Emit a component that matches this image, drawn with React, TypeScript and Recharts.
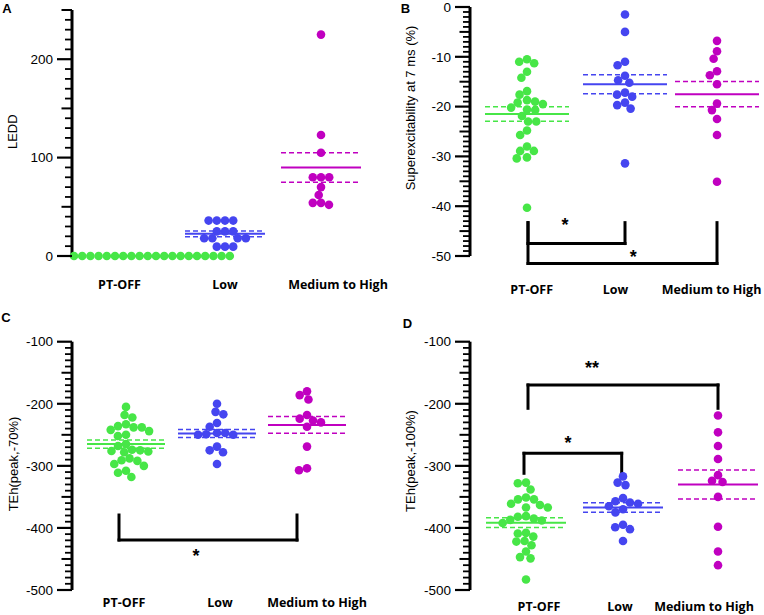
import React from "react";
import { ScatterChart, Scatter, XAxis, YAxis, ReferenceLine, ReferenceDot } from "recharts";

const GROUPS = ["PT-OFF", "Low", "Medium to High"];
const COLORS = ["#47e647", "#4545f0", "#c000c0"];

// A: LEDD
const leddPtOff = [0, 0, 0, 0, 0, 0, 0, 0, 0, 0, 0, 0, 0, 0, 0, 0, 0, 0, 0, 0];
const leddLow = [36, 36, 36, 36, 25, 25, 25, 18, 18, 18, 18, 9.5, 9.5, 9.5];
const leddMed = [225, 123, 105, 80, 80, 80, 70, 62, 54, 54, 52];
const leddMean = [0, 22.5, 90];
const leddSem = [0, 3, 15];

// B: superexcitability at 7 ms
const superPtOff = [-10.5, -11.3, -11, -13, -14.2, -17.6, -16.9, -19, -19.5, -18.7, -19.2, -20.7, -20.2, -20.6, -21.9, -23, -23, -24.8, -25.7, -28, -28.9, -28.9, -30.2, -30.4, -40.3];
const superLow = [-1.5, -5, -11, -11.7, -13.8, -14.7, -15.2, -17.6, -17.2, -18, -19.2, -19.7, -20.4, -31.4];
const superMed = [-6.8, -8.9, -10.4, -12.9, -13.7, -15.5, -19.4, -20.7, -22.5, -25.7, -35.1];
const superMean = [-21.5, -15.5, -17.5];
const superSem = [1.45, 1.9, 2.55];

// C: TEh(peak,-70%)
const teh70PtOff = [-205, -218, -222, -233, -236, -238, -238, -242, -244, -250, -252, -265, -268, -274, -275, -276, -277, -278, -288, -291, -292, -297, -300, -308, -311, -318];
const teh70Low = [-200, -213, -217, -231, -237, -247, -249, -250, -250, -247, -269, -275, -278, -297];
const teh70Med = [-180, -186, -193, -218, -224, -227, -230, -237, -269, -304, -307];
const teh70Mean = [-265, -248, -234];
const teh70Sem = [6.6, 6.5, 13.4];

// D: TEh(peak,-100%)
const teh100PtOff = [-327, -328, -338, -351, -354, -354, -361, -363, -367, -367, -381, -382, -385, -387, -388, -392, -408, -409, -414, -421, -422, -428, -438, -447, -449, -483];
const teh100Low = [-317, -327, -331, -352, -357, -359, -361, -365, -370, -375, -395, -399, -402, -421];
const teh100Med = [-219, -246, -268, -289, -315, -324, -326, -350, -398, -438, -460];
const teh100Mean = [-391.5, -367, -330];
const teh100Sem = [8, 7.7, 23.3];

type Bracket = { x1: number; x2: number; yEnd: number; yBar: number };
type Star = { x: number; y: number; text: string };

type PanelSpec = {
  letter: string;
  yLabel: string;
  left: number;
  top: number;
  width: number;
  height: number;
  axisW: number;
  marginTop: number;
  plotH: number;
  xAxisH: number;
  domain: [number, number];
  major: number;
  minor: number;
  groups: number[][];
  means: number[];
  sems: number[];
  centers: number[];
  labelX: number[];
  labelDy: number;
  halfW: number;
  brackets: Bracket[];
  stars: Star[];
  letterPos: [number, number];
  yLabelPos: [number, number];
};

const PANELS: PanelSpec[] = [
  {
    letter: "A", yLabel: "LEDD",
    left: 0, top: 0, width: 400, height: 300, axisW: 72, marginTop: 10, plotH: 246, xAxisH: 44,
    domain: [0, 250], major: 100, minor: 10,
    groups: [leddPtOff, leddLow, leddMed], means: leddMean, sems: leddSem,
    centers: [84, 153, 249], labelX: [47.5, 153, 266], labelDy: 29, halfW: 40,
    brackets: [], stars: [],
    letterPos: [7, 12.5], yLabelPos: [12.7, 131.7],
  },
  {
    letter: "B", yLabel: "Superexcitability at 7 ms (%)",
    left: 382, top: 0, width: 382, height: 300, axisW: 88, marginTop: 7, plotH: 249, xAxisH: 44,
    domain: [-50, 0], major: 10, minor: 1,
    groups: [superPtOff, superLow, superMed], means: superMean, sems: superSem,
    centers: [57, 155, 247], labelX: [61.7, 145.5, 241.5], labelDy: 34, halfW: 42,
    brackets: [
      { x1: 58, x2: 155, yEnd: -43.3, yBar: -47.5 },
      { x1: 58, x2: 247, yEnd: -43.3, yBar: -51.5 },
    ],
    stars: [
      { x: 95, y: -43.1, text: "*" },
      { x: 163.3, y: -49.6, text: "*" },
    ],
    letterPos: [405.5, 13], yLabelPos: [410.7, 108],
  },
  {
    letter: "C", yLabel: "TEh(peak,-70%)",
    left: 0, top: 300, width: 400, height: 315, axisW: 72, marginTop: 41.7, plotH: 248.3, xAxisH: 25,
    domain: [-500, -100], major: 100, minor: 10,
    groups: [teh70PtOff, teh70Low, teh70Med], means: teh70Mean, sems: teh70Sem,
    centers: [54, 145, 235], labelX: [52, 148, 245], labelDy: 13, halfW: 39,
    brackets: [{ x1: 47, x2: 225, yEnd: -379.2, yBar: -419.5 }],
    stars: [{ x: 124, y: -440.5, text: "*" }],
    letterPos: [6, 322], yLabelPos: [13.3, 464],
  },
  {
    letter: "D", yLabel: "TEh(peak,-100%)",
    left: 382, top: 300, width: 382, height: 315, axisW: 88, marginTop: 41.7, plotH: 248.3, xAxisH: 25,
    domain: [-500, -100], major: 100, minor: 10,
    groups: [teh100PtOff, teh100Low, teh100Med], means: teh100Mean, sems: teh100Sem,
    centers: [56, 153, 248], labelX: [69, 150, 234], labelDy: 17, halfW: 40,
    brackets: [
      { x1: 58, x2: 248, yEnd: -207.3, yBar: -169.7 },
      { x1: 54, x2: 151.7, yEnd: -312, yBar: -279.8 },
    ],
    stars: [
      { x: 122, y: -137.5, text: "**" },
      { x: 98, y: -258.4, text: "*" },
    ],
    letterPos: [407.5, 328], yLabelPos: [410.7, 461],
  },
];

const AXIS_FONT = "'Liberation Sans', Arial, sans-serif";
const LABEL_FONT = "'Open Sans', sans-serif";
const DOT_R = 4.3;
const DOT_GAP = 8.2;

// greedy swarm: each point goes to the free spot closest to the group centre
function beeswarm(values: number[], pxPerUnit: number, gap: number): number[] {
  const order = values.map((_, i) => i).sort((a, b) => values[b] - values[a]);
  const placed: { x: number; y: number }[] = [];
  const xs = new Array(values.length).fill(0);
  for (const i of order) {
    const y = -values[i] * pxPerUnit;
    const cands = [0];
    for (const p of placed) {
      const dy = Math.abs(p.y - y);
      if (dy < gap) {
        const dx = Math.sqrt(gap * gap - dy * dy);
        cands.push(p.x - dx, p.x + dx);
      }
    }
    cands.sort((a, b) => Math.abs(a) - Math.abs(b) || a - b);
    const x = cands.find((c) => placed.every((p) => (p.x - c) ** 2 + (p.y - y) ** 2 >= gap * gap - 0.01)) ?? 0;
    placed.push({ x, y });
    xs[i] = x;
  }
  return xs;
}

// labelled major tick, plus the short ticks between it and the next major
function YTick(props: any) {
  const { x, y, payload, subStep, subCount, subMax } = props;
  const v = Number(payload.value);
  const subs: { dy: number; len: number }[] = [];
  for (let k = 1; k < subCount; k++) {
    if (v + k * subMax.step > subMax.top + 1e-9) break;
    subs.push({ dy: k * subStep, len: 2 * k === subCount ? 10.5 : 7 });
  }
  return (
    <g>
      <line x1={x - 15} x2={x} y1={y} y2={y} stroke="#000" strokeWidth={2.2} />
      {subs.map((s, i) => (
        <line key={i} x1={x - s.len} x2={x} y1={y - s.dy} y2={y - s.dy} stroke="#000" strokeWidth={s.len > 8 ? 2 : 1.8} />
      ))}
      <text x={x - 19} y={y} dy="0.35em" textAnchor="end" fontFamily={AXIS_FONT} fontSize={13.5} fill="#000">
        {String(v)}
      </text>
    </g>
  );
}

function XTick(props: any) {
  const { x, y, index, labelDy } = props;
  return (
    <text x={x} y={y + labelDy} dy="0.35em" textAnchor="middle" fontFamily={LABEL_FONT} fontWeight={700} fontSize={12.5} fill="#000">
      {GROUPS[index]}
    </text>
  );
}

function Panel({ p }: { p: PanelSpec }) {
  const plotW = p.width - p.axisW;
  const pxPerUnit = p.plotH / (p.domain[1] - p.domain[0]);
  const majors: number[] = [];
  for (let v = Math.ceil(p.domain[0] / p.major) * p.major; v <= p.domain[1]; v += p.major) majors.push(v);
  const subCount = Math.round(p.major / p.minor);
  const subMax = { step: p.minor, top: p.domain[1] };

  return (
    <div style={{ position: "absolute", left: p.left, top: p.top }}>
      <ScatterChart width={p.width} height={p.height} margin={{ top: p.marginTop, right: 0, bottom: 0, left: 0 }}>
        <XAxis
          type="number"
          dataKey="x"
          domain={[0, plotW]}
          ticks={p.labelX}
          interval={0}
          height={p.xAxisH}
          axisLine={false}
          tickLine={false}
          tickSize={0}
          tickMargin={0}
          tick={(t: any) => <XTick {...t} labelDy={p.labelDy} />}
        />
        <YAxis
          type="number"
          dataKey="y"
          domain={p.domain}
          ticks={majors}
          interval={0}
          width={p.axisW}
          axisLine={{ stroke: "#000", strokeWidth: 3 }}
          tickLine={false}
          tickSize={0}
          tickMargin={0}
          tick={(t: any) => <YTick {...t} subStep={p.minor * pxPerUnit} subCount={subCount} subMax={subMax} />}
        />
        {p.groups.map((vals, gi) => {
          const offs = beeswarm(vals, pxPerUnit, DOT_GAP);
          const data = vals.map((v, k) => ({ x: p.centers[gi] + offs[k], y: v }));
          return (
            <Scatter
              key={gi}
              data={data}
              isAnimationActive={false}
              shape={(s: any) => <circle cx={s.cx} cy={s.cy} r={DOT_R} fill={COLORS[gi]} />}
            />
          );
        })}
        {p.means.map((m, gi) => {
          const c = p.centers[gi];
          const seg = (y: number) => [
            { x: c - p.halfW, y },
            { x: c + p.halfW, y },
          ];
          return (
            <React.Fragment key={"m" + gi}>
              <ReferenceLine segment={seg(m)} stroke={COLORS[gi]} strokeWidth={2} ifOverflow="visible" />
              <ReferenceLine segment={seg(m + p.sems[gi])} stroke={COLORS[gi]} strokeWidth={1.5} strokeDasharray="5 3" ifOverflow="visible" />
              <ReferenceLine segment={seg(m - p.sems[gi])} stroke={COLORS[gi]} strokeWidth={1.5} strokeDasharray="5 3" ifOverflow="visible" />
            </React.Fragment>
          );
        })}
        {p.brackets.map((b, bi) => (
          <React.Fragment key={"b" + bi}>
            <ReferenceLine segment={[{ x: b.x1, y: b.yEnd }, { x: b.x1, y: b.yBar }]} stroke="#000" strokeWidth={3} strokeLinecap="square" ifOverflow="visible" />
            <ReferenceLine segment={[{ x: b.x1, y: b.yBar }, { x: b.x2, y: b.yBar }]} stroke="#000" strokeWidth={3} strokeLinecap="square" ifOverflow="visible" />
            <ReferenceLine segment={[{ x: b.x2, y: b.yBar }, { x: b.x2, y: b.yEnd }]} stroke="#000" strokeWidth={3} strokeLinecap="square" ifOverflow="visible" />
          </React.Fragment>
        ))}
        {p.stars.map((s, si) => (
          <ReferenceDot
            key={"s" + si}
            x={s.x}
            y={s.y}
            r={0}
            ifOverflow="visible"
            shape={(d: any) => (
              <text x={d.cx} y={d.cy + 9} textAnchor="middle" fontFamily={AXIS_FONT} fontWeight={700} fontSize={18} fill="#000">
                {s.text}
              </text>
            )}
          />
        ))}
      </ScatterChart>
    </div>
  );
}

export default function App() {
  return (
    <div style={{ position: "absolute", left: 0, top: 0, width: 764, height: 615, background: "#fff" }}>
      {PANELS.map((p) => (
        <Panel key={p.letter} p={p} />
      ))}
      <svg width={764} height={615} style={{ position: "absolute", left: 0, top: 0, pointerEvents: "none" }}>
        {PANELS.map((p) => (
          <g key={p.letter}>
            <text x={p.letterPos[0]} y={p.letterPos[1]} textAnchor="middle" fontFamily={AXIS_FONT} fontWeight={700} fontSize={13} fill="#000">
              {p.letter}
            </text>
            <text
              transform={`translate(${p.yLabelPos[0]},${p.yLabelPos[1]}) rotate(-90)`}
              textAnchor="middle"
              dominantBaseline="central"
              fontFamily={AXIS_FONT}
              fontSize={13}
              fill="#000"
            >
              {p.yLabel}
            </text>
          </g>
        ))}
      </svg>
    </div>
  );
}
